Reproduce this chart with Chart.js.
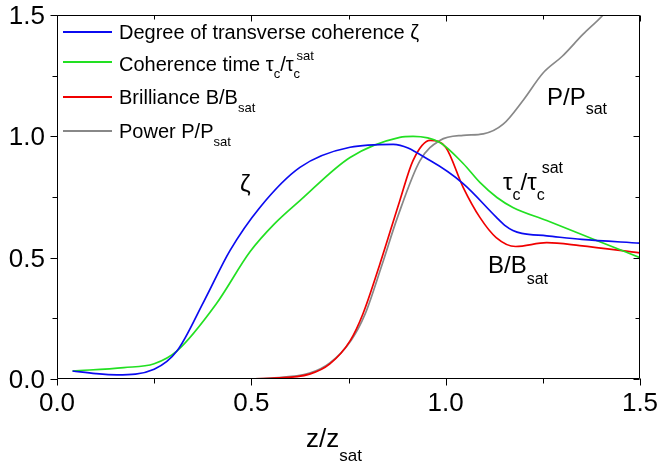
<!DOCTYPE html>
<html>
<head>
<meta charset="utf-8">
<script src="https://cdn.jsdelivr.net/npm/chart.js@4.4.1/dist/chart.umd.min.js"></script>
<style>
  html, body { margin: 0; padding: 0; background: #fff; }
  #wrap { width: 659px; height: 464px; }
</style>
</head>
<body>
<div id="wrap"><canvas id="chart" width="659" height="464"></canvas></div>
<script>
// --- Curves vs. z/z_sat ---
const zetaZ    = [0.04, 0.10, 0.154, 0.25, 0.309, 0.378, 0.445, 0.522, 0.625, 0.754, 0.865, 0.96, 1.045, 1.13, 1.153, 1.173, 1.196, 1.26, 1.35, 1.50];
const zetaVal  = [0.033, 0.022, 0.017, 0.04, 0.116, 0.32, 0.529, 0.707, 0.872, 0.955, 0.967, 0.90, 0.805, 0.667, 0.632, 0.612, 0.60, 0.59, 0.575, 0.56];

const tauZ     = [0.04, 0.172, 0.25, 0.309, 0.41, 0.497, 0.56, 0.625, 0.754, 0.882, 0.916, 0.985, 1.045, 1.088, 1.132, 1.173, 1.26, 1.39, 1.50];
const tauVal   = [0.033, 0.047, 0.063, 0.116, 0.31, 0.525, 0.64, 0.735, 0.913, 0.996, 1.0, 0.975, 0.888, 0.81, 0.748, 0.707, 0.653, 0.57, 0.50];

const brilZ    = [0.04, 0.45, 0.55, 0.65, 0.702, 0.754, 0.787, 0.831, 0.882, 0.916, 0.96, 1.0, 1.045, 1.088, 1.13, 1.18, 1.26, 1.345, 1.50];
const brilVal  = [0.0, 0.0, 0.003, 0.02, 0.062, 0.157, 0.268, 0.475, 0.735, 0.90, 0.983, 0.955, 0.79, 0.666, 0.583, 0.546, 0.562, 0.55, 0.52];

const powerZ   = [0.04, 0.45, 0.55, 0.65, 0.702, 0.757, 0.792, 0.836, 0.876, 0.934, 0.985, 1.045, 1.097, 1.148, 1.20, 1.25, 1.30, 1.353, 1.405, 1.43];
const powerVal = [0.0, 0.0, 0.004, 0.024, 0.066, 0.16, 0.265, 0.47, 0.666, 0.90, 0.983, 1.004, 1.01, 1.05, 1.15, 1.26, 1.33, 1.42, 1.50, 1.55];

const xTickValues = [0, 0.5, 1.0, 1.5];
const xTickLabels = ['0.0', '0.5', '1.0', '1.5'];
const yTickValues = [0, 0.5, 1.0, 1.5];
const yTickLabels = ['0.0', '0.5', '1.0', '1.5'];

const FONT = '"Liberation Sans", Arial, sans-serif';

function toPoints(xs, ys) {
    return xs.map((x, i) => ({ x: x, y: ys[i] }));
}

// text with sub/superscript pieces: parts = [[text, 'n'|'sub'|'sup'], ...]
function drawRich(ctx, x, y, parts, size, subDy, supDy) {
    let cx = x;
    parts.forEach(([t, mode]) => {
        const s = mode === 'n' ? size : Math.round(size * 0.66);
        const dy = mode === 'sub' ? subDy : (mode === 'sup' ? supDy : 0);
        ctx.font = s + 'px ' + FONT;
        ctx.fillText(t, cx, y + dy);
        cx += ctx.measureText(t).width;
    });
}

function lineDataset(label, xs, ys, color) {
    return {
        label: label,
        data: toPoints(xs, ys),
        borderColor: color,
        backgroundColor: color,
        borderWidth: 1.7,
        pointRadius: 0,
        fill: false,
        cubicInterpolationMode: 'monotone'
    };
}

const COLORS = { zeta: '#0b0bf0', tau: '#22e022', bril: '#f00000', power: '#888888' };

// box around the plot, ticks on all four sides, tick labels, legend, curve labels, axis title
const decorPlugin = {
    id: 'decor',
    afterDraw(chart) {
        const ctx = chart.ctx;
        const a = chart.chartArea;
        const xs = chart.scales.x, ys = chart.scales.y;
        ctx.save();
        ctx.strokeStyle = '#000';
        ctx.lineWidth = 1;

        const L = Math.round(a.left) + 0.5, R = Math.round(a.right) - 0.5;
        const T = Math.round(a.top) + 0.5, B = Math.round(a.bottom) - 0.5;
        ctx.beginPath();
        ctx.moveTo(L, T); ctx.lineTo(R, T); ctx.lineTo(R, B); ctx.lineTo(L, B); ctx.closePath();
        for (let k = 0; k <= 6; k++) {
            const v = k * 0.25;
            const major = k % 2 === 0;
            const px = Math.round(xs.getPixelForValue(v)) + 0.5;
            const py = Math.round(ys.getPixelForValue(v)) + 0.5;
            const outLen = major ? 7 : 5;
            const inLen = major ? 6 : 4;
            ctx.moveTo(px, B); ctx.lineTo(px, B + outLen);
            ctx.moveTo(L, py); ctx.lineTo(L - outLen, py);
            ctx.moveTo(px, T); ctx.lineTo(px, T + inLen);
            ctx.moveTo(R, py); ctx.lineTo(R - inLen, py);
        }
        ctx.stroke();

        ctx.fillStyle = '#000';
        ctx.textBaseline = 'alphabetic';

        // tick labels
        ctx.font = '26px ' + FONT;
        ctx.textAlign = 'center';
        xTickValues.forEach((v, i) => {
            ctx.fillText(xTickLabels[i], xs.getPixelForValue(v), 411);
        });
        ctx.textAlign = 'right';
        yTickValues.forEach((v, i) => {
            ctx.fillText(yTickLabels[i], 45, ys.getPixelForValue(v) + 9);
        });
        ctx.textAlign = 'left';

        // legend
        const rows = [
            { color: COLORS.zeta, y: 32, base: 39, parts: [['Degree of transverse coherence \u03B6', 'n']] },
            { color: COLORS.tau, y: 62, base: 71, parts: null },
            { color: COLORS.bril, y: 97, base: 104, parts: [['Brilliance B/B', 'n'], ['sat', 'sub']] },
            { color: COLORS.power, y: 131, base: 138, parts: [['Power P/P', 'n'], ['sat', 'sub']] }
        ];
        rows.forEach(r => {
            ctx.strokeStyle = r.color;
            ctx.lineWidth = 2;
            ctx.beginPath();
            ctx.moveTo(63, r.y);
            ctx.lineTo(112, r.y);
            ctx.stroke();
            if (!r.parts) {
                // tau_c / tau_c^sat
                let cx = 119;
                ctx.font = '20px ' + FONT;
                ctx.fillText('Coherence time \u03C4', cx, r.base); cx += ctx.measureText('Coherence time \u03C4').width;
                ctx.font = '13px ' + FONT;
                ctx.fillText('c', cx, r.base + 7); cx += ctx.measureText('c').width;
                ctx.font = '20px ' + FONT;
                ctx.fillText('/\u03C4', cx, r.base); cx += ctx.measureText('/\u03C4').width;
                ctx.font = '13px ' + FONT;
                ctx.fillText('c', cx, r.base + 7);
                ctx.fillText('sat', cx + 3, r.base - 11);
            } else {
                drawRich(ctx, 119, r.base, r.parts, 20, 8, -10);
            }
        });

        // curve labels
        ctx.font = '24px ' + FONT;
        ctx.fillText('\u03B6', 240, 192);

        drawRich(ctx, 547, 105, [['P/P', 'n'], ['sat', 'sub']], 24, 9, 0);
        drawRich(ctx, 488, 273, [['B/B', 'n'], ['sat', 'sub']], 24, 11, 0);

        let tx = 503;
        ctx.font = '24px ' + FONT;
        ctx.fillText('\u03C4', tx, 190); tx += ctx.measureText('\u03C4').width;
        ctx.font = '16px ' + FONT;
        ctx.fillText('c', tx, 200); tx += ctx.measureText('c').width;
        ctx.font = '24px ' + FONT;
        ctx.fillText('/\u03C4', tx, 190); tx += ctx.measureText('/\u03C4').width;
        ctx.font = '16px ' + FONT;
        ctx.fillText('c', tx, 200);
        ctx.fillText('sat', tx + 5, 173);

        // x axis title
        drawRich(ctx, 306, 447, [['z/z', 'n'], ['sat', 'sub']], 26, 14, 0);

        ctx.restore();
    }
};

new Chart(document.getElementById('chart'), {
    type: 'line',
    data: {
        datasets: [
            lineDataset('Degree of transverse coherence \u03B6', zetaZ, zetaVal, COLORS.zeta),
            lineDataset('Coherence time', tauZ, tauVal, COLORS.tau),
            lineDataset('Brilliance B/Bsat', brilZ, brilVal, COLORS.bril),
            lineDataset('Power P/Psat', powerZ, powerVal, COLORS.power)
        ]
    },
    options: {
        responsive: false,
        animation: false,
        layout: { padding: { top: 15, right: 19, left: 0, bottom: 0 } },
        plugins: { legend: { display: false }, tooltip: { enabled: false } },
        scales: {
            x: {
                type: 'linear',
                min: 0, max: 1.5,
                grid: { display: false },
                border: { display: false },
                ticks: { display: false },
                afterFit: s => { s.height = 85; }
            },
            y: {
                min: 0, max: 1.5,
                grid: { display: false },
                border: { display: false },
                ticks: { display: false },
                afterFit: s => { s.width = 57; }
            }
        }
    },
    plugins: [decorPlugin]
});
</script>
</body>
</html>
